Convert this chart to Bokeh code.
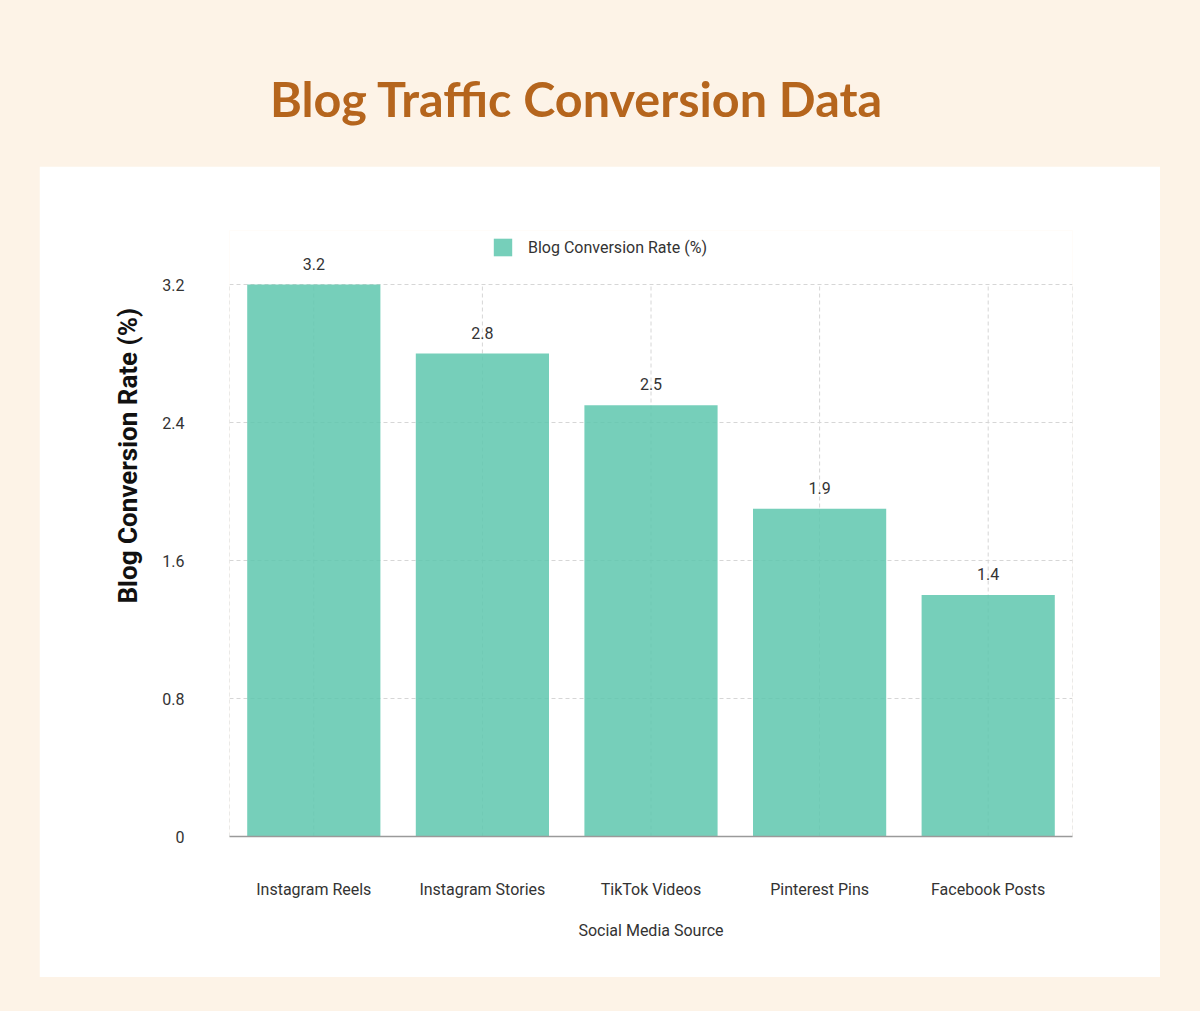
from bokeh.plotting import figure
from bokeh.layouts import column
from bokeh.models import (ColumnDataSource, FactorRange, Range1d, FixedTicker, NumeralTickFormatter,
                          LabelSet, Legend, LegendItem, Div, Title)
from bokeh.core.properties import value
from bokeh.embed import file_html
from bokeh.resources import INLINE

categories = ["Instagram Reels", "Instagram Stories", "TikTok Videos", "Pinterest Pins", "Facebook Posts"]
conversion_rate = [3.2, 2.8, 2.5, 1.9, 1.4]
y_ticks = [0, 0.8, 1.6, 2.4, 3.2]
series_name = "Blog Conversion Rate (%)"
chart_title = "Blog Traffic Conversion Data"
x_title = "Social Media Source"
y_title = "Blog Conversion Rate (%)"

BG = "#fdf3e7"
BAR = "#5ec7ae"
GRID = "#d6d6d6"

src = ColumnDataSource(dict(cat=categories, val=conversion_rate,
                            lbl=[f"{v:g}" for v in conversion_rate]))

y_top = y_ticks[-1] * 606 / 552  # extra headroom for legend and value labels

p = figure(width=1121, height=811, x_range=FactorRange(*categories, range_padding=0),
           y_range=Range1d(0, y_top), output_backend="svg", toolbar_location=None,
           min_border_left=190, min_border_right=88, min_border_top=64, min_border_bottom=141,
           margin=(0, 0, 0, 39))
p.background_fill_color = "white"
p.border_fill_color = "white"
p.outline_line_color = None

# grid
p.xgrid.visible = False
p.ygrid.grid_line_color = GRID
p.ygrid.grid_line_dash = "4 3"
p.ygrid.level = "underlay"
n = len(categories)
p.segment(x0=categories, y0=0, x1=categories, y1=y_ticks[-1], line_color=GRID,
          line_dash="4 3", line_width=1, level="underlay")
p.segment(x0=[0, n], y0=0, x1=[0, n], y1=y_ticks[-1], line_color=GRID,
          line_dash="4 3", line_width=1, level="underlay")

r = p.vbar(x="cat", top="val", width=0.79, source=src, fill_color=BAR, fill_alpha=0.85, line_color=None)

p.add_layout(LabelSet(x="cat", y="val", text="lbl", source=src, y_offset=21, text_align="center",
                      text_baseline="middle", text_font=value("Roboto"), text_font_size="16px",
                      text_color="#333333"))

# axes
p.yaxis.ticker = FixedTicker(ticks=y_ticks)
p.yaxis.formatter = NumeralTickFormatter(format="0.[0]")
p.yaxis.axis_line_color = None
p.yaxis.major_tick_line_color = None
p.yaxis.major_tick_out = 0
p.yaxis.minor_tick_line_color = None
p.yaxis.major_label_standoff = 45
p.yaxis.major_label_text_font = "Roboto"
p.yaxis.major_label_text_font_size = "16px"
p.yaxis.major_label_text_color = "#333333"

p.add_layout(Title(text=y_title, align="left", offset=233, vertical_align="middle",
                   text_font="Roboto", text_font_style="bold", text_font_size="26px",
                   text_color="#111111", standoff=32), "left")

p.xaxis.axis_line_color = "#9a9a9a"
p.xaxis.axis_line_width = 1.5
p.xaxis.major_tick_line_color = None
p.xaxis.major_tick_out = 0
p.xaxis.minor_tick_line_color = None
p.xaxis.major_label_standoff = 43
p.xaxis.major_label_text_font = "Roboto"
p.xaxis.major_label_text_font_size = "16px"
p.xaxis.major_label_text_color = "#333333"
p.xaxis.axis_label = x_title
p.xaxis.axis_label_text_font = "Roboto"
p.xaxis.axis_label_text_font_style = "normal"
p.xaxis.axis_label_text_font_size = "16px"
p.xaxis.axis_label_text_color = "#333333"
p.xaxis.axis_label_standoff = 19

legend = Legend(items=[LegendItem(label=series_name, renderers=[r])], location=(262, 578),
                orientation="horizontal", background_fill_alpha=0, border_line_color=None,
                glyph_width=23, glyph_height=22, label_text_font="Roboto", label_text_font_size="16px",
                label_text_color="#333333", label_standoff=14, padding=0, margin=0)
p.add_layout(legend, "center")

title_div = Div(text=(f'<div style="width:1152px;text-align:center;font-family:Lato;font-weight:bold;'
                      f'font-size:48.5px;color:#b5651d;line-height:56px;padding-top:70px;">{chart_title}</div>'),
                width=1200, height=166, margin=0)

layout = column(title_div, p, width=1200, height=1011, spacing=0, margin=0,
                styles={"background-color": BG})

open("out.html", "w").write(file_html(layout, INLINE))
